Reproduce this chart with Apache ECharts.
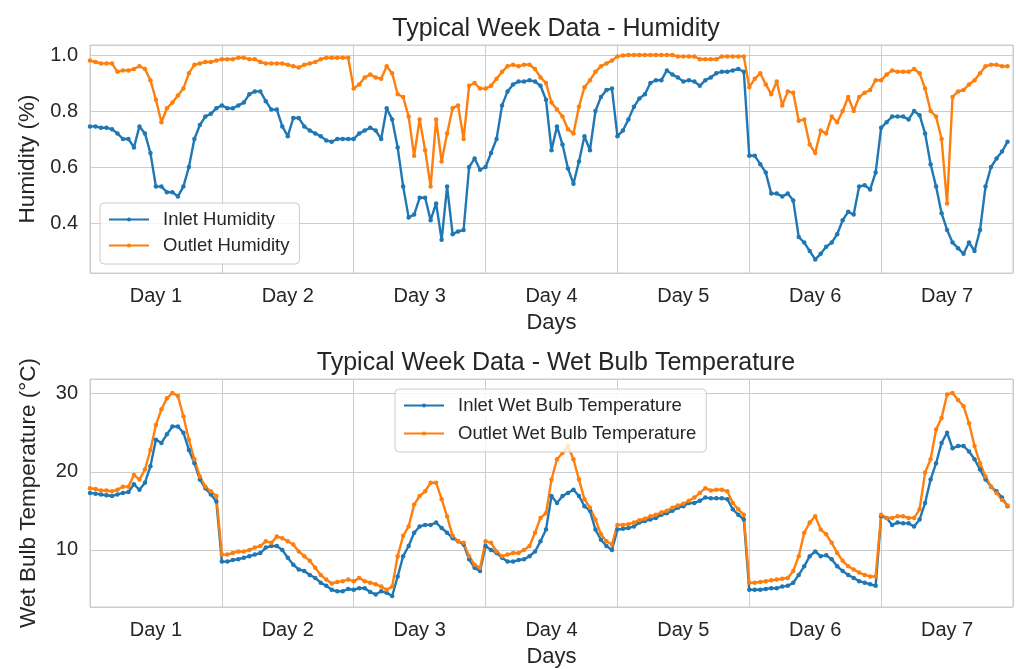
<!DOCTYPE html>
<html>
<head>
<meta charset="utf-8">
<script src="https://cdn.jsdelivr.net/npm/echarts@6/dist/echarts.min.js"></script>
<style>
  html, body { margin: 0; padding: 0; background: #fff; }
  #chart { width: 1016px; height: 669px; }
</style>
</head>
<body>
<div id="chart"></div>
<script>
// hourly readings, one row per day (24 values each)
var dayLabels = ['Day 1', 'Day 2', 'Day 3', 'Day 4', 'Day 5', 'Day 6', 'Day 7'];

var inletHumidity = [
    [0.745,0.745,0.74,0.74,0.735,0.72,0.70,0.70,0.67,0.745,0.72,0.65,0.53,0.53,0.51,0.51,0.495,0.53,0.60,0.70,0.75,0.78,0.79,0.81],
    [0.82,0.81,0.81,0.82,0.83,0.86,0.87,0.87,0.835,0.805,0.805,0.745,0.71,0.775,0.775,0.745,0.73,0.72,0.71,0.695,0.69,0.70,0.70,0.70],
    [0.70,0.72,0.73,0.74,0.73,0.70,0.81,0.77,0.67,0.53,0.42,0.43,0.49,0.49,0.41,0.47,0.34,0.53,0.36,0.37,0.375,0.60,0.63,0.59],
    [0.60,0.65,0.70,0.82,0.87,0.895,0.905,0.905,0.91,0.905,0.89,0.84,0.66,0.745,0.68,0.595,0.54,0.62,0.71,0.66,0.80,0.85,0.875,0.88],
    [0.71,0.73,0.77,0.815,0.845,0.86,0.90,0.91,0.91,0.945,0.93,0.92,0.905,0.91,0.905,0.89,0.91,0.92,0.935,0.94,0.94,0.945,0.95,0.94],
    [0.64,0.64,0.61,0.58,0.505,0.505,0.495,0.505,0.48,0.35,0.33,0.30,0.27,0.29,0.315,0.33,0.36,0.41,0.44,0.43,0.53,0.535,0.52,0.58],
    [0.74,0.76,0.78,0.78,0.78,0.77,0.80,0.785,0.72,0.61,0.53,0.435,0.375,0.33,0.31,0.29,0.33,0.30,0.375,0.53,0.60,0.63,0.655,0.69]
];
var outletHumidity = [
    [0.98,0.975,0.97,0.97,0.97,0.94,0.945,0.945,0.95,0.96,0.95,0.91,0.84,0.76,0.81,0.83,0.855,0.88,0.935,0.965,0.97,0.975,0.975,0.98],
    [0.985,0.985,0.985,0.99,0.99,0.985,0.985,0.975,0.97,0.97,0.97,0.97,0.965,0.96,0.955,0.965,0.97,0.975,0.985,0.99,0.99,0.99,0.99,0.99],
    [0.88,0.895,0.92,0.93,0.92,0.915,0.96,0.935,0.86,0.85,0.78,0.64,0.77,0.66,0.53,0.77,0.62,0.72,0.81,0.82,0.70,0.89,0.90,0.88],
    [0.88,0.89,0.915,0.94,0.96,0.965,0.96,0.965,0.965,0.95,0.92,0.90,0.83,0.805,0.78,0.735,0.72,0.815,0.885,0.91,0.94,0.96,0.97,0.98],
    [0.995,0.998,1.0,1.0,1.0,1.0,1.0,1.0,1.0,1.0,1.0,0.995,0.995,0.995,0.995,0.985,0.985,0.985,0.985,0.995,0.995,0.995,0.995,0.995],
    [0.885,0.915,0.935,0.895,0.86,0.905,0.82,0.87,0.865,0.765,0.77,0.68,0.65,0.73,0.72,0.78,0.76,0.80,0.85,0.80,0.85,0.865,0.875,0.91],
    [0.91,0.93,0.945,0.94,0.94,0.94,0.95,0.935,0.88,0.80,0.78,0.70,0.47,0.85,0.87,0.875,0.895,0.91,0.935,0.96,0.965,0.965,0.96,0.96]
];

var inletWetBulb = [
    [17.3,17.2,17.1,17.0,16.9,17.1,17.3,17.4,18.4,17.7,18.6,20.7,24.1,23.7,24.8,25.8,25.8,25.0,22.8,21.1,19.0,17.9,17.1,16.2],
    [8.5,8.5,8.7,8.8,9.0,9.2,9.4,9.6,10.3,10.5,10.5,10.0,9.0,8.1,7.5,7.3,6.8,6.4,5.8,5.4,4.9,4.7,4.7,5.0],
    [4.9,5.1,5.1,4.6,4.3,4.7,4.5,4.1,6.6,9.2,10.5,12.2,13.0,13.2,13.2,13.5,12.8,12.2,11.5,11.1,10.7,8.8,7.7,7.3],
    [10.5,10.0,9.6,9.0,8.5,8.5,8.7,8.8,9.2,9.8,11.1,12.6,16.9,16.0,16.9,17.3,17.7,16.9,15.6,15.0,12.6,11.3,10.5,10.0],
    [12.6,12.7,12.8,13.0,13.5,13.7,13.9,14.1,14.5,14.7,15.0,15.4,15.6,16.0,16.0,16.3,16.7,16.6,16.6,16.6,16.5,15.2,14.5,13.9],
    [4.9,4.9,4.9,5.0,5.1,5.1,5.3,5.4,5.8,6.8,7.9,9.2,9.8,9.2,9.3,8.8,7.9,7.3,6.8,6.4,6.0,5.8,5.6,5.4],
    [14.3,14.1,13.2,13.5,13.4,13.4,13.0,13.9,16.0,19.0,21.1,23.7,25.0,23.0,23.3,23.3,22.6,21.6,20.3,19.0,18.1,17.5,16.7,15.6]
];
var outletWetBulb = [
    [17.9,17.8,17.6,17.6,17.5,17.7,18.1,18.1,19.6,19.0,20.3,22.8,26.0,28.0,29.4,30.1,29.7,27.1,24.1,21.6,19.4,18.1,17.5,16.9],
    [9.4,9.4,9.6,9.8,9.8,10.0,10.3,10.5,11.1,10.9,11.7,11.5,11.1,10.7,9.8,9.2,8.6,7.7,6.8,6.2,5.7,5.9,6.0,6.2],
    [6.0,6.4,6.0,5.8,5.6,5.3,4.9,5.3,9.2,11.8,13.0,15.8,16.9,17.5,18.6,18.6,16.5,14.3,11.8,11.1,10.9,9.2,8.1,7.7],
    [11.1,10.9,9.8,9.2,9.4,9.6,9.6,10.0,10.5,12.2,14.1,14.7,19.0,21.6,22.4,23.3,21.6,19.0,16.5,15.4,13.9,12.0,11.1,10.7],
    [13.2,13.2,13.3,13.5,13.8,14.0,14.3,14.5,14.8,15.0,15.4,15.7,15.9,16.3,16.7,17.3,17.9,17.6,17.7,17.7,17.5,16.0,15.2,14.5],
    [5.8,5.8,5.9,6.0,6.1,6.2,6.3,6.4,7.3,9.2,12.2,13.5,14.3,12.6,12.0,10.9,9.6,8.6,7.9,7.5,7.1,6.8,6.6,6.6],
    [14.5,14.1,14.1,14.3,14.3,14.1,14.1,15.2,19.9,21.6,25.4,26.9,29.9,30.1,29.2,28.4,26.2,23.3,21.1,19.4,18.1,17.3,16.4,15.7]
];

var BLUE = '#1f77b4';
var ORANGE = '#ff7f0e';
var TEXT = '#262626';
var GRIDLINE = '#cccccc';
var FONT = '"Liberation Sans", Arial, sans-serif';

// x position in days: day index + hour / 24
function toPoints(days) {
    var pts = [];
    days.forEach(function (row, d) {
        row.forEach(function (v, h) {
            pts.push([d + h / 24, v]);
        });
    });
    return pts;
}

function lineSeries(name, data, color, gridIdx) {
    return {
        type: 'line',
        name: name,
        xAxisIndex: gridIdx * 2,
        yAxisIndex: gridIdx,
        data: toPoints(data),
        symbol: 'circle',
        symbolSize: 4.5,
        showSymbol: true,
        itemStyle: {color: color},
        lineStyle: {color: color, width: 2.4},
        emphasis: {disabled: true}
    };
}

function dayAxes(gridIdx) {
    return [
        {
            type: 'value', gridIndex: gridIdx, min: 0, max: 7, interval: 1,
            axisLabel: {show: false}, axisLine: {show: false}, axisTick: {show: false},
            splitLine: {show: true, lineStyle: {color: GRIDLINE, width: 1}}
        },
        {
            type: 'category', gridIndex: gridIdx, data: dayLabels, boundaryGap: true,
            position: 'bottom',
            axisLine: {show: false}, axisTick: {show: false}, splitLine: {show: false},
            axisLabel: {fontSize: 20, color: TEXT, fontFamily: FONT, margin: 13},
            name: 'Days', nameLocation: 'middle', nameGap: 39,
            nameTextStyle: {fontSize: 22, color: TEXT, fontFamily: FONT}
        }
    ];
}

function legendBox(names, left, top, gap) {
    return {
        data: names,
        orient: 'vertical',
        left: left,
        top: top,
        itemWidth: 40,
        itemHeight: 5,
        itemGap: gap,
        padding: [7, 10, 9, 8],
        backgroundColor: 'rgba(255,255,255,0.8)',
        borderColor: GRIDLINE,
        borderWidth: 1,
        borderRadius: 4,
        textStyle: {fontSize: 18.5, color: TEXT, fontFamily: FONT, padding: [0, 0, 0, 9]}
    };
}

var myChart = echarts.init(document.getElementById('chart'), null, {renderer: 'canvas'});
var option = {
    animation: false,
    backgroundColor: '#ffffff',
    textStyle: {fontFamily: FONT},
    title: [
        {
            text: 'Typical Week Data - Humidity', left: 551, top: 12, textAlign: 'center',
            textStyle: {fontSize: 25, fontWeight: 'normal', color: TEXT, fontFamily: FONT}
        },
        {
            text: 'Typical Week Data - Wet Bulb Temperature', left: 551, top: 346, textAlign: 'center',
            textStyle: {fontSize: 25, fontWeight: 'normal', color: TEXT, fontFamily: FONT}
        }
    ],
    legend: [
        legendBox(['Inlet Humidity', 'Outlet Humidity'], 100, 203, 7),
        legendBox(['Inlet Wet Bulb Temperature', 'Outlet Wet Bulb Temperature'], 395, 389, 9)
    ],
    grid: [
        {left: 90, right: 3, top: 45, height: 228, show: true, borderColor: GRIDLINE, borderWidth: 1},
        {left: 90, right: 3, top: 379, height: 228, show: true, borderColor: GRIDLINE, borderWidth: 1}
    ],
    xAxis: dayAxes(0).concat(dayAxes(1)),
    yAxis: [
        {
            type: 'value', gridIndex: 0, min: 0.2214, max: 1.0357, splitNumber: 4,
            axisLine: {show: false}, axisTick: {show: false},
            splitLine: {lineStyle: {color: GRIDLINE, width: 1}},
            axisLabel: {
                fontSize: 20, color: TEXT, fontFamily: FONT, margin: 12,
                showMinLabel: false, showMaxLabel: false,
                formatter: function (v) { return v.toFixed(1); }
            },
            name: 'Humidity (%)', nameLocation: 'middle', nameGap: 50,
            nameTextStyle: {fontSize: 22.5, color: TEXT, fontFamily: FONT}
        },
        {
            type: 'value', gridIndex: 1, min: 2.69, max: 31.88, splitNumber: 3,
            axisLine: {show: false}, axisTick: {show: false},
            splitLine: {lineStyle: {color: GRIDLINE, width: 1}},
            axisLabel: {
                fontSize: 20, color: TEXT, fontFamily: FONT, margin: 12,
                showMinLabel: false, showMaxLabel: false,
                formatter: function (v) { return String(Math.round(v)); }
            },
            name: 'Wet Bulb Temperature (°C)', nameLocation: 'middle', nameGap: 50,
            nameTextStyle: {fontSize: 22.5, color: TEXT, fontFamily: FONT}
        }
    ],
    series: [
        lineSeries('Inlet Humidity', inletHumidity, BLUE, 0),
        lineSeries('Outlet Humidity', outletHumidity, ORANGE, 0),
        lineSeries('Inlet Wet Bulb Temperature', inletWetBulb, BLUE, 1),
        lineSeries('Outlet Wet Bulb Temperature', outletWetBulb, ORANGE, 1)
    ]
};
myChart.setOption(option);
</script>
</body>
</html>
